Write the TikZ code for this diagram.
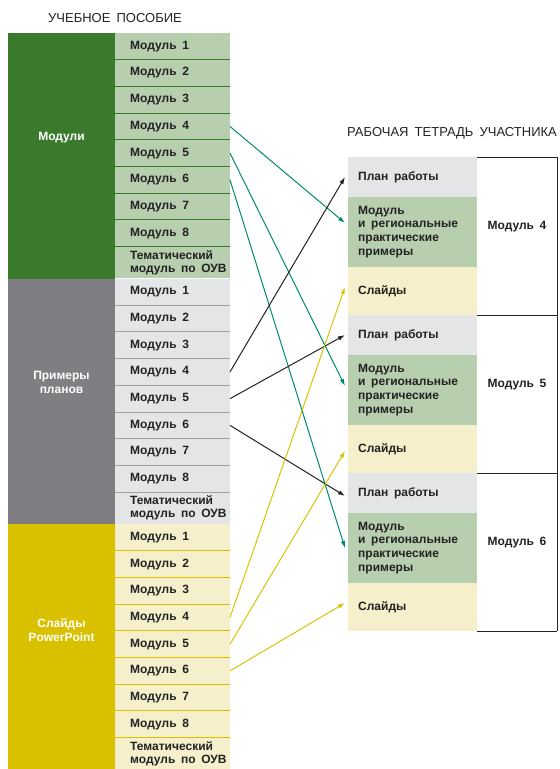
\documentclass[tikz,border=0pt]{standalone}
\usepackage{fontspec}
\setmainfont{Liberation Sans}[WordSpace=1.7]
\usetikzlibrary{arrows.meta}
\definecolor{grnD}{HTML}{3A7A2D}
\definecolor{grnL}{HTML}{B7CEAF}
\definecolor{gryD}{HTML}{7F7F83}
\definecolor{gryL}{HTML}{E4E5E7}
\definecolor{gryS}{HTML}{A3A3A6}
\definecolor{ylwD}{HTML}{D9C100}
\definecolor{ylwL}{HTML}{F5EFCB}
\definecolor{arrG}{HTML}{008A6E}
\definecolor{arrY}{HTML}{D9C300}
\definecolor{ink}{HTML}{222222}
\tikzset{
  lcell/.style={anchor=north west, minimum width=115pt, minimum height=26.7pt, inner sep=0pt, outer sep=0pt},
  rcell/.style={anchor=north west, minimum width=129pt, inner sep=0pt, outer sep=0pt},
  ltxt/.style={anchor=west, xshift=15pt, inner sep=0pt, align=left, text=ink, font=\fontsize{12}{13}\selectfont\bfseries},
  rtxt/.style={anchor=west, xshift=10pt, inner sep=0pt, align=left, text=ink, font=\fontsize{12}{13.8}\selectfont\bfseries},
  btxt/.style={inner sep=0pt, text=ink, font=\fontsize{12}{14}\selectfont\bfseries},
  blk/.style={align=center, inner sep=0pt, text=white, font=\fontsize{12}{14}\selectfont\bfseries},
  head/.style={inner sep=0pt, text=ink, font=\fontsize{13}{15}\selectfont},
  arr/.style={line width=1pt, -{Latex[length=7pt,width=4.5pt]}},
  frame/.style={line width=1pt, draw=ink}
}
\begin{document}
\begin{tikzpicture}[x=1pt,y=-1pt]
\useasboundingbox (0,0) rectangle (560,769);
\node[head] (hleft) at (115,18) {УЧЕБНОЕ ПОСОБИЕ};
\node[head] (hright) at (452,133) {РАБОЧАЯ ТЕТРАДЬ УЧАСТНИКА};

\fill[grnD] (8,33) rectangle (115,278.5);
\fill[gryD] (8,278.5) rectangle (115,524);
\fill[ylwD] (8,524) rectangle (115,769);
\node[blk] (bmod) at (61.5,138) {Модули};
\node[blk] (bplan) at (61.5,382) {Примеры\\планов};
\node[blk] (bslide) at (61.5,630) {Слайды\\PowerPoint};

\foreach \i in {1,...,8} {
  \node[lcell, fill=grnL] (gm\i) at (115,{33+26.7*(\i-1)}) {};
  \node[ltxt] at (gm\i.west) {Модуль \i};
  \node[lcell, fill=gryL] (pm\i) at (115,{278.5+26.7*(\i-1)}) {};
  \node[ltxt] at (pm\i.west) {Модуль \i};
  \node[lcell, fill=ylwL] (sm\i) at (115,{524+26.7*(\i-1)}) {};
  \node[ltxt] at (sm\i.west) {Модуль \i};
}
\node[lcell, fill=grnL, minimum height=31.4pt] (gmt) at (gm8.south west) {};
\node[ltxt] at (gmt.west) {Тематический\\модуль по ОУВ};
\node[lcell, fill=gryL, minimum height=31.4pt] (pmt) at (pm8.south west) {};
\node[ltxt] at (pmt.west) {Тематический\\модуль по ОУВ};
\node[lcell, fill=ylwL, minimum height=31.4pt] (smt) at (sm8.south west) {};
\node[ltxt] at (smt.west) {Тематический\\модуль по ОУВ};
\foreach \i in {1,...,8} {
  \draw[grnD, line width=1pt] (gm\i.south west) -- (gm\i.south east);
  \draw[gryS, line width=1pt] (pm\i.south west) -- (pm\i.south east);
  \draw[ylwD, line width=1pt] (sm\i.south west) -- (sm\i.south east);
}

\foreach \g/\y/\n in {1/157/4,2/315/5,3/473/6} {
  \node[rcell, fill=gryL, minimum height=40pt] (wp\g) at (348,\y) {};
  \node[rtxt] at (wp\g.west) {План работы};
  \node[rcell, fill=grnL, minimum height=70pt] (wm\g) at (wp\g.south west) {};
  \node[rtxt] at (wm\g.west) {Модуль\\и региональные\\практические\\примеры};
  \node[rcell, fill=ylwL, minimum height=48pt] (ws\g) at (wm\g.south west) {};
  \node[rtxt] at (ws\g.west) {Слайды};
  \node[btxt] (wb\g) at ([xshift=40pt,yshift=5pt]wm\g.east) {Модуль \n};
  \draw[frame] (ws\g.south east) -- ++(80,0);
}
\draw[frame] (wp1.north east) -- ++(80,0) -- ([xshift=80pt]ws3.south east);

\draw[arr, arrG] (gm4.east) -- ([xshift=-3pt,yshift=9pt]wm1.west);
\draw[arr, arrG] (gm5.east) -- ([xshift=-3pt,yshift=4pt]wm2.west);
\draw[arr, arrG] (gm6.east) -- ([xshift=-3pt]wm3.west);
\draw[arr, ink] (pm4.east) -- ([xshift=-3pt]wp1.west);
\draw[arr, ink] (pm5.east) -- ([xshift=-3pt]wp2.west);
\draw[arr, ink] (pm6.east) -- ([xshift=-3pt,yshift=-3pt]wp3.west);
\draw[arr, arrY] (sm4.east) -- ([xshift=-3pt,yshift=4pt]ws1.west);
\draw[arr, arrY] (sm5.east) -- ([xshift=-3pt,yshift=-2pt]ws2.west);
\draw[arr, arrY] (sm6.east) -- ([xshift=-3pt,yshift=4pt]ws3.west);
\end{tikzpicture}
\end{document}
